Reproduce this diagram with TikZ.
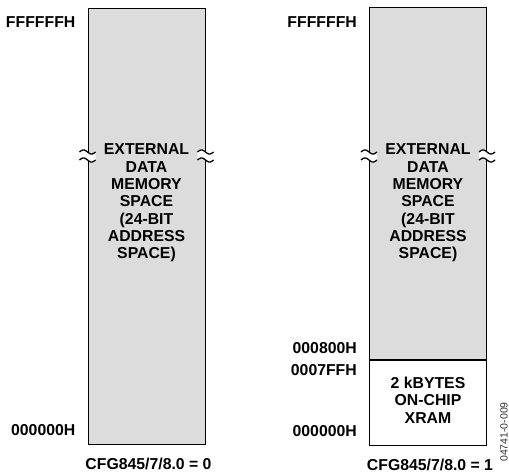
\documentclass[tikz,border=0pt]{standalone}
\usepackage{fontspec}
\setmainfont{Liberation Sans}
\usetikzlibrary{positioning}
\definecolor{MemGray}{HTML}{DCDCDC}
\definecolor{CodeGray}{HTML}{333333}

\tikzset{
  membox/.style={draw, line width=1pt, minimum width=117pt, inner sep=0pt},
  addr/.style={anchor=east},
  brk/.pic={
    \fill[white] plot[domain=-8:8, samples=25] (\x,{4-2*sin(22.5*\x)})
      -- plot[domain=8:-8, samples=25] (\x,{-4-2*sin(22.5*\x)}) -- cycle;
    \draw[line width=1.3pt] plot[domain=-8:8, samples=25] (\x,{4-2*sin(22.5*\x)});
    \draw[line width=1.3pt] plot[domain=-8:8, samples=25] (\x,{-4-2*sin(22.5*\x)});
  }
}

\begin{document}
\begin{tikzpicture}[x=1pt, y=1pt, every node/.style={font=\fontsize{15.8}{17.3}\selectfont\bfseries, align=center, inner sep=0pt}]
  \useasboundingbox (0,0) rectangle (509,474);
  % CFG845/7/8.0 = 0
  \node[membox, fill=MemGray, minimum height=436pt] (ext0) at (146.5,247.5) {};
  \node (txt0) at (146.5,271) {EXTERNAL\\DATA\\MEMORY\\SPACE\\(24-BIT\\ADDRESS\\SPACE)};
  \node[addr] (top0) at ([xshift=-12pt, yshift=-14.5pt]ext0.north west) {FFFFFFH};
  \node[addr] (bot0) at ([xshift=-12pt, yshift=14.5pt]ext0.south west) {000000H};
  \node[below=13pt of ext0.south, xshift=2pt, anchor=north] (cfg0) {CFG845/7/8.0 = 0};
  % CFG845/7/8.0 = 1
  \node[membox, fill=MemGray, minimum height=352pt] (ext1) at (428,290) {};
  \node[membox, fill=white, minimum height=84.5pt, below=0pt of ext1.south, anchor=north] (xram) {};
  \node (txt1) at (428,271) {EXTERNAL\\DATA\\MEMORY\\SPACE\\(24-BIT\\ADDRESS\\SPACE)};
  \node (txt2) at (428,74) {2 kBYTES\\ON-CHIP\\XRAM};
  \node[addr] (top1) at ([xshift=-12pt, yshift=-14.5pt]ext1.north west) {FFFFFFH};
  \node[addr] (lo1) at ([xshift=-12pt, yshift=12pt]ext1.south west) {000800H};
  \node[addr] (hi1) at ([xshift=-12pt, yshift=-10pt]xram.north west) {0007FFH};
  \node[addr] (bot1) at ([xshift=-12pt, yshift=14.5pt]xram.south west) {000000H};
  \node[below=13pt of xram.south, xshift=2pt, anchor=north] (cfg1) {CFG845/7/8.0 = 1};
  \node[rotate=90, font=\fontsize{10.5}{12}\selectfont, text=CodeGray] (code) at (504,42) {04741-0-009};
  % breaks
  \coordinate (brkline) at (0,318);
  \foreach \p in {ext0.west, ext0.east, ext1.west, ext1.east}
    \pic at (\p |- brkline) {brk};
\end{tikzpicture}
\end{document}
